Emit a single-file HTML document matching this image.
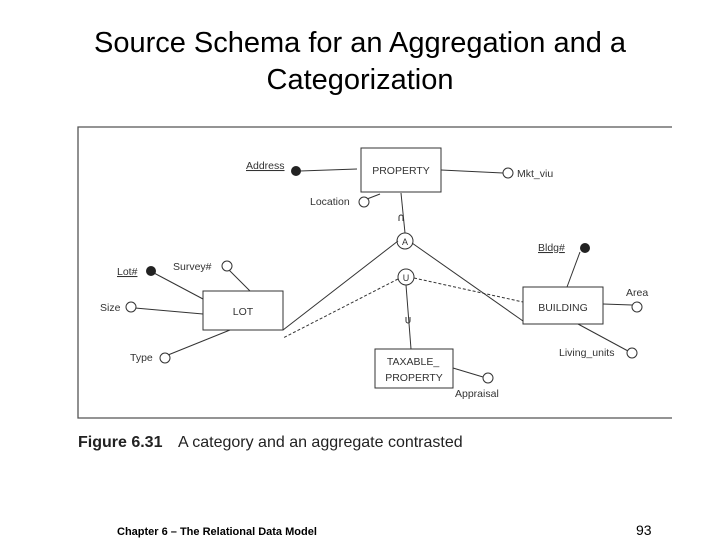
<!DOCTYPE html>
<html><head><meta charset="utf-8"><style>
html,body{margin:0;padding:0;background:#fff;}
body{width:720px;height:540px;position:relative;overflow:hidden;font-family:"Liberation Sans",sans-serif;}
.t{position:absolute;left:0;width:720px;text-align:center;font-size:29px;color:#000;}
</style></head><body>
<div class="t" style="top:27px;">Source Schema for an Aggregation and a</div>
<div class="t" style="top:64px;">Categorization</div>
<svg width="720" height="540" style="position:absolute;left:0;top:0" font-family="Liberation Sans, sans-serif">
<g stroke="#555" fill="none" stroke-width="1.3">
<path d="M672 127 H78 V418 H672"/>
</g>
<g stroke="#333" fill="none" stroke-width="1">
<rect x="361" y="148" width="80" height="44"/>
<rect x="203" y="291" width="80" height="39"/>
<rect x="523" y="287" width="80" height="37"/>
<rect x="375" y="349" width="78" height="39"/>
<circle cx="405" cy="241" r="8" fill="#fff"/>
<circle cx="406" cy="277" r="8" fill="#fff"/>
<line x1="300" y1="171" x2="357" y2="169"/>
<line x1="441" y1="170" x2="503" y2="173"/>
<line x1="367" y1="199" x2="380" y2="194"/>
<line x1="401" y1="193" x2="405" y2="233"/>
<line x1="398" y1="241" x2="283" y2="330"/>
<line x1="412" y1="243" x2="523" y2="321"/>
<line x1="406" y1="285" x2="411" y2="349"/>
<line x1="154" y1="273" x2="203" y2="299"/>
<line x1="229" y1="270" x2="250" y2="291"/>
<line x1="135" y1="308" x2="203" y2="314"/>
<line x1="168" y1="355" x2="230" y2="330"/>
<line x1="580" y1="252" x2="567" y2="287"/>
<line x1="603" y1="304" x2="632" y2="305"/>
<line x1="578" y1="324" x2="628" y2="351"/>
<line x1="453" y1="368" x2="483" y2="377"/>
<path d="M399 221 v-4 a2 2 0 0 1 4 0 v4"/>
<path d="M406 317 v4 a2 2 0 0 0 4 0 v-4"/>
</g>
<g stroke="#333" fill="none" stroke-width="1" stroke-dasharray="3,2">
<line x1="398" y1="279" x2="283" y2="338"/>
<line x1="414" y1="278" x2="523" y2="302"/>
</g>
<g fill="#222"><circle cx="296" cy="171" r="5"/><circle cx="151" cy="271" r="5"/><circle cx="585" cy="248" r="5"/></g>
<g stroke="#333" fill="#fff"><circle cx="508" cy="173" r="5"/><circle cx="364" cy="202" r="5"/><circle cx="227" cy="266" r="5"/><circle cx="131" cy="307" r="5"/><circle cx="165" cy="358" r="5"/><circle cx="637" cy="307" r="5"/><circle cx="632" cy="353" r="5"/><circle cx="488" cy="378" r="5"/></g>
<g font-size="10.5" fill="#333">
<text x="401" y="174" text-anchor="middle">PROPERTY</text>
<text x="243" y="315" text-anchor="middle">LOT</text>
<text x="563" y="311" text-anchor="middle">BUILDING</text>
<text x="413" y="365" text-anchor="middle">TAXABLE_</text>
<text x="414" y="381" text-anchor="middle">PROPERTY</text>
<text x="405" y="245" text-anchor="middle" font-size="9">A</text>
<text x="406" y="281" text-anchor="middle" font-size="9">U</text>
<text x="246" y="169" text-decoration="underline">Address</text>
<text x="517" y="177">Mkt_viu</text>
<text x="310" y="205">Location</text>
<text x="117" y="275" text-decoration="underline">Lot#</text>
<text x="173" y="270">Survey#</text>
<text x="100" y="311">Size</text>
<text x="130" y="361">Type</text>
<text x="538" y="251" text-decoration="underline">Bldg#</text>
<text x="626" y="296">Area</text>
<text x="559" y="356">Living_units</text>
<text x="455" y="397">Appraisal</text>
</g>
<text x="78" y="447" font-size="16" fill="#222"><tspan font-weight="bold">Figure 6.31</tspan><tspan x="178">A category and an aggregate contrasted</tspan></text>
<text x="117" y="535" font-size="11" font-weight="bold" fill="#000">Chapter 6 – The Relational Data Model</text>
<text x="636" y="535" font-size="14" fill="#000">93</text>
</svg>
</body></html>
